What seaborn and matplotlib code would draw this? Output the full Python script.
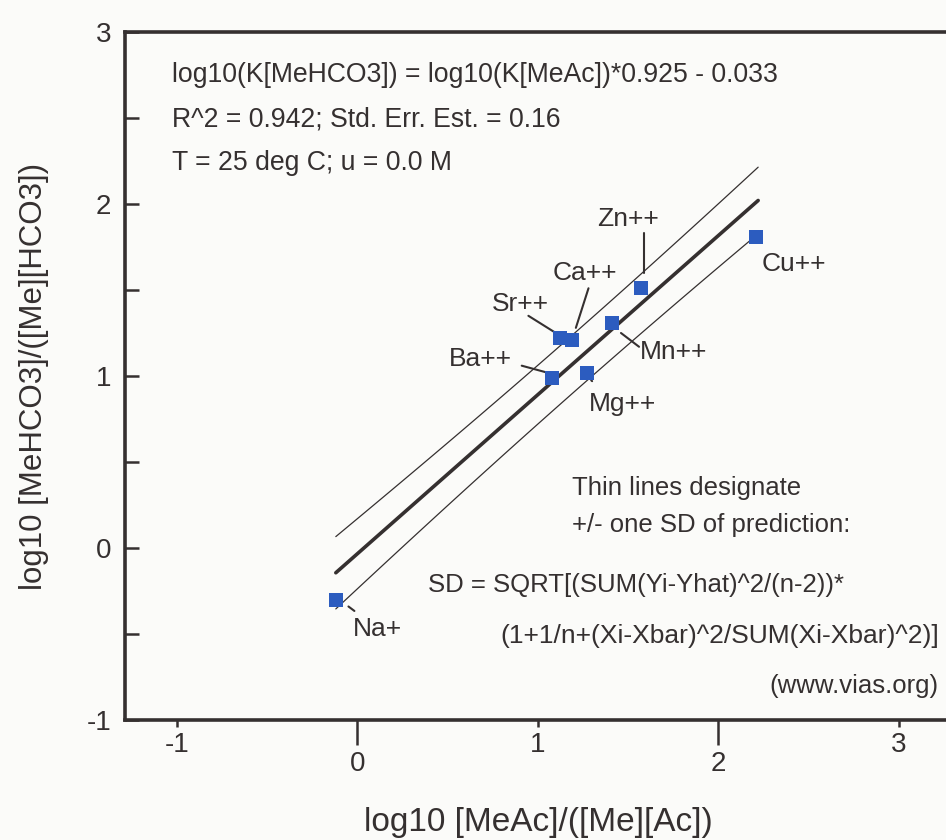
import numpy as np
import pandas as pd
import matplotlib
matplotlib.use("Agg")
import matplotlib.pyplot as plt
import seaborn as sns
from matplotlib.ticker import FixedLocator, FixedFormatter

# ---- data ----
ions = ["Na+", "Ba++", "Mg++", "Sr++", "Ca++", "Mn++", "Zn++", "Cu++"]
log_k_meac = [-0.12, 1.08, 1.27, 1.12, 1.19, 1.41, 1.57, 2.21]
log_k_mehco3 = [-0.30, 0.99, 1.02, 1.22, 1.21, 1.31, 1.51, 1.81]
slope = 0.925
intercept = -0.033
std_err = 0.16

x_major = [0, 2]
x_minor = [-1, 1, 3]
y_major = [-1, 0, 1, 2, 3]
y_minor = [-0.5, 0.5, 1.5, 2.5]

# label positions (data coords) for the ion annotations and their leader lines
label_xy = {
    "Na+":  (0.11, -0.47),
    "Ba++": (0.68, 1.10),
    "Mg++": (1.47, 0.84),
    "Sr++": (0.90, 1.42),
    "Ca++": (1.26, 1.60),
    "Mn++": (1.75, 1.14),
    "Zn++": (1.50, 1.91),
    "Cu++": (2.42, 1.65),
}
leaders = {
    "Na+":  ((-0.05, -0.34), (-0.017, -0.366)),
    "Ba++": ((0.91, 1.06), (1.05, 1.02)),
    "Mg++": ((1.295, 0.975), (1.30, 0.97)),
    "Sr++": ((0.947, 1.35), (1.09, 1.256)),
    "Ca++": ((1.28, 1.51), (1.21, 1.28)),
    "Mn++": ((1.46, 1.25), (1.56, 1.17)),
    "Zn++": ((1.59, 1.83), (1.59, 1.60)),
}

df = pd.DataFrame({"ion": ions, "x": log_k_meac, "y": log_k_mehco3})

# regression line and prediction band
xs = np.linspace(min(log_k_meac), max(log_k_meac) + 0.01, 100)
xa = np.array(log_k_meac)
n = len(xa)
xbar = xa.mean()
sxx = ((xa - xbar) ** 2).sum()
yhat = slope * xs + intercept
sd = std_err * np.sqrt(1 + 1 / n + (xs - xbar) ** 2 / sxx)
lines = pd.DataFrame({"x": xs, "fit": yhat, "upper": yhat + sd, "lower": yhat - sd})

ink = "#353030"
bg = "#fbfbf9"

sns.set_theme(style="white")
plt.rcParams["font.family"] = ["Liberation Sans", "DejaVu Sans"]

fig = plt.figure(figsize=(9.46, 8.40), dpi=100, facecolor=bg)
ax = fig.add_axes([125 / 946, 1 - 720 / 840, 827 / 946, 688 / 840], facecolor=bg)

sns.lineplot(data=lines, x="x", y="fit", ax=ax, color=ink, lw=2.6, zorder=2)
sns.lineplot(data=lines, x="x", y="upper", ax=ax, color=ink, lw=0.9, zorder=2)
sns.lineplot(data=lines, x="x", y="lower", ax=ax, color=ink, lw=0.9, zorder=2)
sns.scatterplot(data=df, x="x", y="y", ax=ax, marker="s", s=95, color="#2c5cbf",
                linewidth=0, zorder=3)

for ion in ions:
    tx, ty = label_xy[ion]
    ax.text(tx, ty, ion, fontsize=19, color=ink, ha="center", va="center")
    if ion in leaders:
        (x0, y0), (x1, y1) = leaders[ion]
        ax.plot([x0, x1], [y0, y1], color=ink, lw=1.5, zorder=2)

ax.set_xlim(-1.288, 3.294)
ax.set_ylim(-1, 3)

for s in ax.spines.values():
    s.set_color(ink)
    s.set_linewidth(2.6)
    s.set_visible(True)

ax.xaxis.set_major_locator(FixedLocator(x_major))
ax.xaxis.set_minor_locator(FixedLocator(x_minor))
ax.xaxis.set_major_formatter(FixedFormatter([str(v) for v in x_major]))
ax.xaxis.set_minor_formatter(FixedFormatter([str(v) for v in x_minor]))
ax.tick_params(axis="x", which="major", direction="out", length=18, width=1.8,
               color=ink, labelsize=20, labelcolor=ink, pad=4, bottom=True)
ax.tick_params(axis="x", which="minor", direction="out", length=5, width=1.8,
               color=ink, labelsize=20, labelcolor=ink, pad=4, bottom=True)

ax.yaxis.set_major_locator(FixedLocator(y_major))
ax.yaxis.set_minor_locator(FixedLocator(y_minor))
ax.yaxis.set_major_formatter(FixedFormatter([str(v) for v in y_major]))
ax.tick_params(axis="y", which="major", direction="in", length=10, width=1.8,
               color=ink, labelsize=20, labelcolor=ink, pad=10, left=True)
ax.tick_params(axis="y", which="minor", direction="in", length=10, width=1.8,
               color=ink, left=True)

ax.set_xlabel("log10 [MeAc]/([Me][Ac])", fontsize=24, color=ink, labelpad=22)
ax.set_ylabel("log10 [MeHCO3]/([Me][HCO3])", fontsize=22.5, color=ink, labelpad=27)

tprops = dict(color=ink, transform=ax.transData, va="center")
ax.text(-1.03, 2.75, "log10(K[MeHCO3]) = log10(K[MeAc])*0.925 - 0.033", ha="left", fontsize=19.2, **tprops)
ax.text(-1.03, 2.49, "R^2 = 0.942; Std. Err. Est. = 0.16", ha="left", fontsize=19.2, **tprops)
ax.text(-1.03, 2.24, "T = 25 deg C; u = 0.0 M", ha="left", fontsize=19.2, **tprops)
ax.text(1.19, 0.35, "Thin lines designate", ha="left", fontsize=18.5, **tprops)
ax.text(1.19, 0.135, "+/- one SD of prediction:", ha="left", fontsize=18.5, **tprops)
ax.text(0.39, -0.215, "SD = SQRT[(SUM(Yi-Yhat)^2/(n-2))*", ha="left", fontsize=18.5, **tprops)
ax.text(3.22, -0.51, "(1+1/n+(Xi-Xbar)^2/SUM(Xi-Xbar)^2)]", ha="right", fontsize=19, **tprops)
ax.text(3.22, -0.80, "(www.vias.org)", ha="right", fontsize=18.5, **tprops)

fig.savefig("out.png", dpi=100, facecolor=bg)
